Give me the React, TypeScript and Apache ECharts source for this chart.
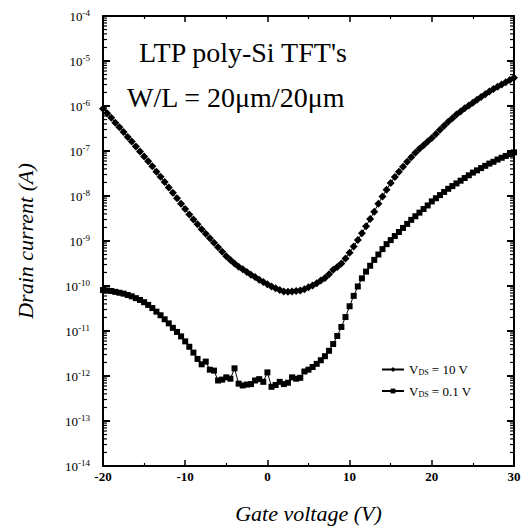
import React, { useEffect, useRef } from "react";
import * as echarts from "echarts";

// Gate voltage sweep (V)
const gateVoltage = [
  -20, -19.5, -19, -18.5, -18, -17.5, -17, -16.5, -16, -15.5, -15, -14.5, -14, -13.5, -13, -12.5,
  -12, -11.5, -11, -10.5, -10, -9.5, -9, -8.5, -8, -7.5, -7, -6.5, -6, -5.5, -5, -4.5, -4, -3.5,
  -3, -2.5, -2, -1.5, -1, -0.5, 0, 0.5, 1, 1.5, 2, 2.5, 3, 3.5, 4, 4.5, 5, 5.5, 6, 6.5, 7, 7.5,
  8, 8.5, 9, 9.5, 10, 10.5, 11, 11.5, 12, 12.5, 13, 13.5, 14, 14.5, 15, 15.5, 16, 16.5, 17, 17.5,
  18, 18.5, 19, 19.5, 20, 20.5, 21, 21.5, 22, 22.5, 23, 23.5, 24, 24.5, 25, 25.5, 26, 26.5, 27,
  27.5, 28, 28.5, 29, 29.5, 30,
];

// log10 of drain current (A), V_DS = 10 V
const logIdVds10 = [
  -6.06, -6.16, -6.26, -6.37, -6.47, -6.58, -6.69, -6.79, -6.9, -7.01, -7.12, -7.23, -7.34, -7.46,
  -7.57, -7.69, -7.81, -7.93, -8.05, -8.17, -8.29, -8.41, -8.52, -8.63, -8.74, -8.84, -8.94, -9.04,
  -9.14, -9.24, -9.34, -9.42, -9.5, -9.57, -9.63, -9.69, -9.75, -9.8, -9.86, -9.91, -9.96, -10.01,
  -10.05, -10.09, -10.12, -10.13, -10.12, -10.11, -10.1, -10.07, -10.03, -9.99, -9.94, -9.88,
  -9.82, -9.74, -9.64, -9.58, -9.5, -9.39, -9.26, -9.12, -8.98, -8.83, -8.67, -8.51, -8.35, -8.17,
  -8.01, -7.86, -7.71, -7.58, -7.46, -7.35, -7.24, -7.14, -7.04, -6.95, -6.87, -6.79, -6.71, -6.62,
  -6.53, -6.44, -6.35, -6.27, -6.19, -6.12, -6.05, -5.99, -5.93, -5.86, -5.8, -5.74, -5.68, -5.62,
  -5.57, -5.52, -5.47, -5.42, -5.37,
];

// log10 of drain current (A), V_DS = 0.1 V
const logIdVds01 = [
  -10.09, -10.1, -10.11, -10.13, -10.15, -10.17, -10.2, -10.23, -10.27, -10.31, -10.36, -10.42,
  -10.49, -10.57, -10.65, -10.74, -10.83, -10.93, -11.02, -11.12, -11.23, -11.35, -11.48, -11.62,
  -11.74, -11.68, -11.86, -11.88, -12.1, -12.08, -12.03, -12.06, -11.83, -12.17, -12.21, -12.19,
  -12.18, -12.1, -12.07, -12.13, -11.92, -12.24, -12.2, -12.13, -12.18, -12.15, -12.03, -12.06,
  -12.04, -11.9, -11.86, -11.8, -11.73, -11.65, -11.56, -11.44, -11.29, -11.11, -10.91, -10.69,
  -10.45, -10.22, -10.01, -9.83, -9.68, -9.55, -9.42, -9.3, -9.18, -9.07, -8.98, -8.89, -8.8,
  -8.71, -8.62, -8.53, -8.45, -8.37, -8.29, -8.21, -8.12, -8.05, -7.98, -7.91, -7.84, -7.78,
  -7.72, -7.66, -7.6, -7.54, -7.48, -7.43, -7.38, -7.33, -7.28, -7.24, -7.19, -7.15, -7.11,
  -7.07, -7.03,
];

const xTickLabels = ["-20", "-10", "0", "10", "20", "30"];
const seriesNames = ["VDS = 10 V", "VDS = 0.1 V"];
const titleLines = ["LTP poly-Si TFT's", "W/L = 20\u03bcm/20\u03bcm"];

const FONT = "'Liberation Serif', 'DejaVu Serif', serif";

export default function App() {
  const ref = useRef<HTMLDivElement>(null);
  useEffect(() => {
    if (!ref.current) return;
    const chart = echarts.init(ref.current, undefined, { renderer: "svg" });

    const hi = gateVoltage.map((v, i) => [v, Math.pow(10, logIdVds10[i])]);
    const lo = gateVoltage.map((v, i) => [v, Math.pow(10, logIdVds01[i])]);

    // minor log tick positions (2..9 x 10^n)
    const minorTicks: number[][] = [];
    for (let n = -14; n < -4; n++) {
      for (let k = 2; k <= 9; k++) minorTicks.push([-20, k * Math.pow(10, n)]);
    }

    const axisLine = { show: true, onZero: false, lineStyle: { color: "#000", width: 2 } };

    chart.setOption({
      animation: false,
      backgroundColor: "#fff",
      grid: { left: 103, right: 14, top: 16, bottom: 63, containLabel: false },
      xAxis: [
        {
          type: "value",
          min: -20,
          max: 30,
          interval: 10,
          axisLine,
          axisTick: { inside: true, length: 6, lineStyle: { color: "#000", width: 1.5 } },
          minorTick: { show: true, splitNumber: 2, length: 3, lineStyle: { color: "#000", width: 1.2 } },
          splitLine: { show: false },
          axisLabel: {
            color: "#000",
            fontFamily: FONT,
            fontSize: 13,
            fontWeight: "bold",
            margin: 4,
            formatter: (v: number) => {
              const s = String(v);
              return xTickLabels.includes(s) ? s : "";
            },
          },
          name: "Gate voltage (V)",
          nameLocation: "middle",
          nameGap: 36,
          nameTextStyle: { color: "#000", fontFamily: FONT, fontSize: 22, fontStyle: "italic" },
        },
        {
          type: "value",
          position: "top",
          min: -20,
          max: 30,
          interval: 10,
          axisLine,
          axisTick: { inside: true, length: 6, lineStyle: { color: "#000", width: 1.5 } },
          minorTick: { show: true, splitNumber: 2, length: 3, lineStyle: { color: "#000", width: 1.2 } },
          splitLine: { show: false },
          axisLabel: { show: false },
        },
      ],
      yAxis: [
        {
          type: "log",
          logBase: 10,
          position: "left",
          min: 1e-14,
          max: 1e-4,
          interval: 1,
          axisLine,
          axisTick: { inside: true, length: 7, lineStyle: { color: "#000", width: 2 } },
          splitLine: { show: false },
          axisLabel: {
            margin: 13,
            formatter: (v: number) => `{b|10}{s|${Math.round(Math.log10(v))}}`,
            rich: {
              b: { fontFamily: FONT, fontSize: 13, color: "#000", lineHeight: 16 },
              s: { fontFamily: FONT, fontSize: 9, color: "#000", verticalAlign: "top", lineHeight: 10 },
            },
          },
          name: "Drain current (A)",
          nameLocation: "middle",
          nameGap: 67,
          nameRotate: 90,
          nameTextStyle: { color: "#000", fontFamily: FONT, fontSize: 22, fontStyle: "italic" },
        },
        {
          type: "log",
          logBase: 10,
          position: "right",
          min: 1e-14,
          max: 1e-4,
          interval: 1,
          axisLine,
          axisTick: { inside: true, length: 7, lineStyle: { color: "#000", width: 2 } },
          splitLine: { show: false },
          axisLabel: { show: false },
        },
      ],
      legend: {
        left: 376,
        top: 358,
        orient: "vertical",
        itemGap: 8,
        itemWidth: 22,
        itemHeight: 6,
        data: seriesNames,
        formatter: (name: string) => {
          const rest = name.replace("VDS", "");
          return `{a|V}{sub|DS}{a|${rest}}`;
        },
        textStyle: {
          rich: {
            a: { fontFamily: FONT, fontSize: 13, color: "#000" },
            sub: { fontFamily: FONT, fontSize: 8, color: "#000", verticalAlign: "bottom", lineHeight: 14 },
          },
        },
      },
      graphic: [
        {
          type: "text",
          left: 139,
          top: 38,
          style: { text: titleLines[0], font: `28px ${FONT}`, fill: "#000" },
        },
        {
          type: "text",
          left: 127,
          top: 83,
          style: { text: titleLines[1], font: `28px ${FONT}`, fill: "#000" },
        },
      ],
      series: [
        {
          name: seriesNames[0],
          type: "line",
          data: hi,
          symbol: "diamond",
          symbolSize: 8,
          showAllSymbol: true,
          itemStyle: { color: "#000" },
          lineStyle: { color: "#000", width: 1 },
          z: 3,
        },
        {
          name: seriesNames[1],
          type: "line",
          data: lo,
          symbol: "rect",
          symbolSize: 6,
          showAllSymbol: true,
          itemStyle: { color: "#000" },
          lineStyle: { color: "#000", width: 1 },
          z: 3,
        },
        {
          type: "custom",
          silent: true,
          data: minorTicks,
          clip: false,
          renderItem: (params: any, api: any) => {
            const left = api.coord([-20, api.value(1)]);
            const right = api.coord([30, api.value(1)]);
            return {
              type: "group",
              children: [
                {
                  type: "line",
                  shape: { x1: left[0], y1: left[1], x2: left[0] + 4, y2: left[1] },
                  style: { stroke: "#000", lineWidth: 1.2 },
                },
                {
                  type: "line",
                  shape: { x1: right[0], y1: right[1], x2: right[0] - 4, y2: right[1] },
                  style: { stroke: "#000", lineWidth: 1.2 },
                },
              ],
            };
          },
          z: 4,
        },
      ],
    });
    return () => chart.dispose();
  }, []);
  return (
    <div
      ref={ref}
      style={{ position: "fixed", left: 0, top: 0, width: 528, height: 529 }}
    />
  );
}
